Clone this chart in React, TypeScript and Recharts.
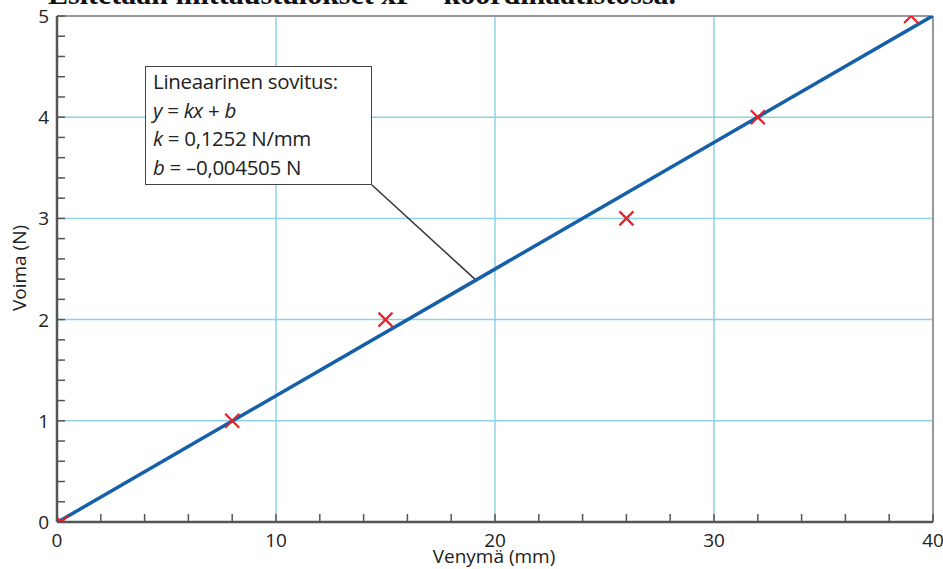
import { ComposedChart, Line, Scatter, XAxis, YAxis, ReferenceLine } from 'recharts'

// mittauspisteet (venymä mm, voima N)
const venyma = [0.2, 8, 15, 26, 32, 39]
const voima = [0, 1, 2, 3, 4, 5]

// sovituksen parametrit
const k = 0.1252
const b = -0.004505
const fitRange = [0, 40]

const xTicks = [0, 2, 4, 6, 8, 10, 12, 14, 16, 18, 20, 22, 24, 26, 28, 30, 32, 34, 36, 38, 40]
const yTicks = [
  0, 0.2, 0.4, 0.6, 0.8, 1, 1.2, 1.4, 1.6, 1.8, 2, 2.2, 2.4, 2.6, 2.8, 3, 3.2, 3.4, 3.6, 3.8, 4,
  4.2, 4.4, 4.6, 4.8, 5,
]
const xGrid = [10, 20, 30]
const yGrid = [1, 2, 3, 4]

const points = venyma.map((x, i) => ({ x, y: voima[i] }))
const fitData = fitRange.map((x) => ({ x, y: k * x + b }))

const FONT = '"Open Sans", sans-serif'
const AXIS = '#555'

function XTick({ x, y, payload }: any) {
  const major = payload.value % 10 === 0
  return (
    <g>
      <line x1={x} y1={y} x2={x} y2={y - 8} stroke={AXIS} strokeWidth={1.5} />
      {major && (
        <text x={x} y={y + 25} textAnchor="middle" fontSize={19} fontFamily={FONT} fill="#222">
          {payload.value}
        </text>
      )}
    </g>
  )
}

function YTick({ x, y, payload }: any) {
  const major = Math.abs(payload.value - Math.round(payload.value)) < 1e-6
  return (
    <g>
      <line x1={x} y1={y} x2={x + 8} y2={y} stroke={AXIS} strokeWidth={1.5} />
      {major && (
        <text x={x - 8} y={y + 7} textAnchor="end" fontSize={19} fontFamily={FONT} fill="#222">
          {Math.round(payload.value)}
        </text>
      )}
    </g>
  )
}

function Cross({ cx, cy }: any) {
  const s = 7
  return (
    <g stroke="#e8202a" strokeWidth={2.2}>
      <line x1={cx - s} y1={cy - s} x2={cx + s} y2={cy + s} />
      <line x1={cx - s} y1={cy + s} x2={cx + s} y2={cy - s} />
    </g>
  )
}

export default function App() {
  return (
    <div style={{ position: 'absolute', left: 0, top: 0, width: 943, height: 569, overflow: 'hidden', background: '#fff' }}>
      <div
        style={{
          position: 'absolute',
          left: 48,
          top: -21,
          fontFamily: '"Liberation Serif", serif',
          fontWeight: 'bold',
          fontSize: 30,
          lineHeight: '30px',
          whiteSpace: 'nowrap',
          color: '#111',
        }}
      >
        Esitetään mittaustulokset xF – koordinaatistossa.
      </div>
      <ComposedChart
        width={943}
        height={569}
        margin={{ top: 16, right: 10, bottom: 17, left: 12 }}
        style={{ position: 'absolute', left: 0, top: 0 }}
      >
        <XAxis
          dataKey="x"
          type="number"
          domain={[0, 40]}
          ticks={xTicks}
          interval={0}
          height={30}
          tickSize={0}
          tickMargin={0}
          tickLine={false}
          tick={<XTick />}
          axisLine={false}
          allowDataOverflow
        />
        <YAxis
          type="number"
          domain={[0, 5]}
          ticks={yTicks}
          interval={0}
          width={45}
          tickSize={0}
          tickMargin={0}
          tickLine={false}
          tick={<YTick />}
          axisLine={false}
          allowDataOverflow
        />
        {xGrid.map((v) => (
          <ReferenceLine key={'gx' + v} x={v} stroke="#8fd3e3" strokeWidth={1.5} />
        ))}
        {yGrid.map((v) => (
          <ReferenceLine key={'gy' + v} y={v} stroke="#8fd3e3" strokeWidth={1.5} />
        ))}
        <ReferenceLine y={5} stroke="#999" strokeWidth={2} />
        <ReferenceLine x={40} stroke="#999" strokeWidth={2} />
        <ReferenceLine y={0} stroke={AXIS} strokeWidth={2.5} />
        <ReferenceLine x={0} stroke={AXIS} strokeWidth={2.5} />
        <ReferenceLine
          segment={[
            { x: 14.38, y: 3.33 },
            { x: 19.13, y: 2.39 },
          ]}
          stroke="#333"
          strokeWidth={1.5}
        />
        <Line
          data={fitData}
          dataKey="y"
          stroke="#1560a8"
          strokeWidth={3.5}
          dot={false}
          isAnimationActive={false}
        />
        <Scatter data={points} dataKey="y" shape={<Cross />} isAnimationActive={false} />
      </ComposedChart>
      <div
        style={{
          position: 'absolute',
          left: 145,
          top: 66,
          width: 227,
          height: 119,
          boxSizing: 'border-box',
          border: '1.5px solid #444',
          background: '#fff',
          padding: '0 0 0 7px',
          fontFamily: FONT,
          fontSize: 20.5,
          letterSpacing: -0.3,
          lineHeight: '28.5px',
          color: '#222',
          whiteSpace: 'nowrap',
        }}
      >
        <div>Lineaarinen sovitus:</div>
        <div>
          <i>y</i> = <i>kx</i> + <i>b</i>
        </div>
        <div>
          <i>k</i> = 0,1252 N/mm
        </div>
        <div>
          <i>b</i> = –0,004505 N
        </div>
      </div>
      <div
        style={{
          position: 'absolute',
          left: 0,
          width: 943,
          top: 545,
          paddingLeft: 45,
          textAlign: 'center',
          fontFamily: FONT,
          fontSize: 19,
          lineHeight: '22px',
          color: '#222',
          boxSizing: 'border-box',
        }}
      >
        Venymä (mm)
      </div>
      <div
        style={{
          position: 'absolute',
          left: 19,
          top: 268,
          transform: 'translate(-50%, -50%) rotate(-90deg)',
          fontFamily: FONT,
          fontSize: 19,
          color: '#222',
          whiteSpace: 'nowrap',
        }}
      >
        Voima (N)
      </div>
    </div>
  )
}
